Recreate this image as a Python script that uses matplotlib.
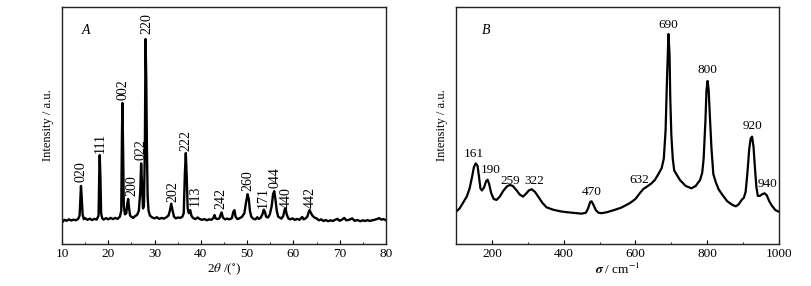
import matplotlib
matplotlib.use('Agg')
import matplotlib.pyplot as plt
from matplotlib.ticker import MultipleLocator

plt.rcParams['font.family'] = 'Liberation Serif'
plt.rcParams['mathtext.fontset'] = 'stix'
plt.rcParams['font.size'] = 9

# XRD pattern (panel A)
xrd_2theta = [10.2, 10.5, 11.0, 11.5, 12.0, 12.5, 13.0, 13.5, 13.8, 14.0, 14.1, 14.25, 14.45, 14.7,
              15.0, 15.5, 16.0, 16.5, 17.0, 17.5, 17.9, 18.05, 18.15, 18.3, 18.45, 18.7, 19.0, 19.5,
              20.0, 20.5, 21.0, 21.5, 22.0, 22.5, 22.8, 22.95, 23.05, 23.2, 23.35, 23.6, 23.9, 24.1,
              24.3, 24.5, 24.7, 25.0, 25.4, 25.8, 26.2, 26.6, 26.9, 27.1, 27.3, 27.5, 27.7, 27.9,
              28.05, 28.2, 28.35, 28.5, 28.7, 29.0, 29.5, 30.0, 30.5, 31.0, 31.5, 32.0, 32.5, 33.0,
              33.3, 33.6, 33.9, 34.2, 34.6, 35.0, 35.5, 36.0, 36.3, 36.55, 36.75, 36.95, 37.15, 37.4,
              37.7, 37.95, 38.3, 38.8, 39.3, 39.7, 40.2, 40.8, 41.3, 41.8, 42.3, 42.7, 42.95, 43.2,
              43.6, 44.0, 44.3, 44.5, 44.75, 45.2, 45.7, 46.2, 46.7, 47.0, 47.25, 47.5, 47.9, 48.4,
              48.9, 49.4, 49.8, 50.1, 50.35, 50.6, 50.9, 51.3, 51.8, 52.2, 52.5, 52.9, 53.3, 53.6,
              53.85, 54.1, 54.5, 54.9, 55.3, 55.6, 55.85, 56.1, 56.4, 56.7, 57.0, 57.4, 57.8, 58.1,
              58.3, 58.55, 58.9, 59.3, 59.8, 60.3, 60.8, 61.3, 61.7, 61.9, 62.2, 62.6, 63.0, 63.3,
              63.5, 63.8, 64.1, 64.5, 65.0, 65.5, 66.0, 66.5, 67.0, 67.5, 68.0, 68.5, 69.0, 69.5,
              70.0, 70.5, 71.0, 71.4, 72.0, 72.7, 73.2, 73.8, 74.5, 75.0, 75.5, 76.0, 76.5, 77.0,
              77.5, 78.0, 78.5, 79.0, 79.5, 80.0]
xrd_int = [9.5, 10.2, 9.8, 10.4, 9.9, 10.3, 10.0, 10.6, 12.0, 20.0, 24.5, 20.0, 12.5, 10.5,
           10.9, 10.2, 10.7, 10.1, 10.6, 10.3, 12.0, 30.0, 37.5, 28.0, 13.0, 10.8, 10.3, 10.9,
           10.4, 11.0, 10.5, 11.0, 10.6, 11.5, 14.0, 45.0, 59.5, 40.0, 16.0, 12.5, 13.0, 17.0,
           19.0, 15.0, 12.0, 11.5, 11.0, 11.8, 12.2, 14.0, 22.0, 34.0, 25.0, 15.0, 16.0, 40.0,
           86.5, 70.0, 40.0, 20.0, 14.0, 12.0, 11.2, 10.8, 11.3, 10.6, 11.0, 10.7, 11.2, 12.0,
           14.0, 17.0, 14.0, 11.5, 10.8, 11.2, 11.0, 11.5, 13.0, 30.0, 38.4, 28.0, 15.0, 13.0,
           14.3, 12.0, 11.0, 10.5, 11.2, 10.6, 10.2, 10.5, 10.0, 10.4, 10.2, 11.0, 12.2, 10.8,
           10.5, 10.8, 12.5, 13.3, 11.2, 10.4, 10.7, 10.4, 10.9, 13.5, 14.3, 11.5, 10.5, 10.9,
           11.5, 13.0, 18.0, 21.0, 19.0, 14.0, 11.5, 10.7, 10.4, 11.3, 10.6, 11.0, 12.5, 14.5,
           13.5, 11.5, 11.2, 12.5, 16.0, 21.0, 22.3, 19.0, 14.0, 11.5, 11.2, 10.7, 11.8, 14.5,
           15.0, 12.5, 10.8, 10.4, 10.8, 10.2, 10.6, 10.2, 11.0, 11.4, 10.4, 10.8, 11.5, 13.5,
           14.3, 13.0, 12.0, 11.2, 10.8, 10.0, 10.4, 9.7, 10.1, 9.6, 10.0, 9.7, 10.2, 10.6,
           9.8, 10.3, 11.0, 10.0, 10.2, 10.8, 9.8, 10.1, 9.6, 10.0, 9.7, 10.1, 9.7, 10.0,
           10.2, 10.5, 10.9, 10.3, 10.5, 10.0]

xrd_labels = ['020', '111', '002', '200', '022', '220', '202', '222', '113',
              '242', '260', '171', '044', '440', '442']
xrd_label_x = [14.1, 18.2, 23.1, 25.1, 27.1, 28.3, 34.0, 36.7, 38.7,
               44.3, 50.2, 53.5, 56.0, 58.5, 63.6]
xrd_label_y = [30.5, 42.7, 65.0, 24.5, 40.0, 93.0, 22.0, 43.5, 20.3,
               19.4, 26.6, 19.6, 28.0, 19.8, 19.8]

# Raman spectrum (panel B)
raman_shift = [100, 110, 120, 130, 138, 145, 150, 155, 160, 164, 168, 172, 178, 184, 188,
               192, 198, 205, 213, 222, 232, 242, 250, 258, 268, 278, 287, 295, 303, 311,
               320, 330, 340, 352, 370, 390, 410, 430, 450, 462, 468, 474, 478, 483, 490,
               497, 506, 520, 540, 560, 585, 600, 612, 622, 632, 644, 654, 664, 673, 679,
               684, 688, 692, 695, 697, 700, 704, 708, 714, 724, 740, 756, 768, 780, 786,
               790, 795, 798, 801, 804, 808, 812, 817, 824, 832, 842, 856, 870, 880, 888,
               896, 902, 907, 912, 917, 921, 925, 929, 933, 937, 941, 947, 953, 960, 966,
               973, 980, 990, 1000]
raman_int = [13.6, 15.0, 17.5, 20.0, 23.5, 28.5, 32.5, 34.0, 33.0, 28.5, 23.5, 22.6, 23.8, 26.5, 27.1,
             25.5, 21.5, 19.0, 18.6, 20.0, 22.5, 24.3, 24.9, 24.5, 22.8, 20.8, 20.0, 21.2, 22.6, 23.1,
             22.0, 19.8, 17.5, 15.5, 14.5, 13.8, 13.4, 13.1, 12.8, 13.2, 15.0, 17.8, 18.0, 16.5, 14.2,
             13.2, 13.0, 13.4, 14.3, 15.3, 17.3, 19.0, 21.4, 23.2, 24.2, 25.5, 27.0, 29.5, 32.0, 36.0,
             48.0, 70.0, 88.6, 80.0, 62.0, 46.0, 36.0, 31.0, 29.5, 27.0, 24.5, 23.5, 24.5, 27.0, 30.0,
             36.0, 52.0, 65.0, 68.8, 65.0, 52.0, 40.0, 29.5, 26.0, 23.0, 20.8, 18.0, 16.5, 15.9, 16.8,
             18.6, 19.5, 22.0, 30.0, 40.0, 44.5, 45.3, 41.0, 32.0, 24.0, 20.3, 20.3, 21.0, 21.4, 20.5,
             18.0, 16.2, 14.3, 13.6]

raman_labels = ['161', '190', '259', '322', '470', '632', '690', '800', '920', '940']
raman_label_x = [150, 197, 252, 318, 478, 610, 692, 801, 926, 968]
raman_label_y = [38.1, 31.1, 26.7, 26.7, 21.9, 27.1, 92.5, 73.3, 49.9, 25.3]

fig = plt.figure(figsize=(8.12, 2.86), dpi=100)
axA = fig.add_axes([62/812, 42/286, 324/812, 237/286])
axB = fig.add_axes([456/812, 42/286, 323/812, 237/286])

for ax in (axA, axB):
    for s in ax.spines.values():
        s.set_linewidth(1.0)
        s.set_color('#222222')
    ax.set_ylim(0, 100)
    ax.set_yticks([])
    ax.tick_params(axis='x', direction='in', length=3, width=0.8, pad=3, labelsize=9.5)
    ax.tick_params(axis='x', which='minor', direction='in', length=1.5, width=0.6)
    ax.set_ylabel('Intensity / a.u.', fontsize=9, labelpad=6)

axA.plot(xrd_2theta, xrd_int, color='black', lw=1.7)
axA.set_xlim(10, 80)
axA.xaxis.set_major_locator(MultipleLocator(10))
axA.xaxis.set_minor_locator(MultipleLocator(5))
axA.set_xlabel(r'2$\it{\theta}$ /($^{\circ}$)', fontsize=9.5, labelpad=1)
for lab, x, y in zip(xrd_labels, xrd_label_x, xrd_label_y):
    axA.text(x, y, lab, rotation=90, ha='center', va='center', fontsize=10)
axA.text(15.2, 90, 'A', fontstyle='italic', fontsize=10, ha='center', va='center')

axB.plot(raman_shift, raman_int, color='black', lw=1.6)
axB.set_xlim(100, 1000)
axB.set_xticks([200, 400, 600, 800, 1000])
axB.xaxis.set_minor_locator(MultipleLocator(100))
axB.set_xlabel(r'$\boldsymbol{\sigma}$ / cm$^{-1}$', fontsize=9.5, labelpad=1)
for lab, x, y in zip(raman_labels, raman_label_x, raman_label_y):
    axB.text(x, y, lab, ha='center', va='center', fontsize=9.5)
axB.text(183, 90, 'B', fontstyle='italic', fontsize=10, ha='center', va='center')

fig.savefig('out.png', dpi=100)
